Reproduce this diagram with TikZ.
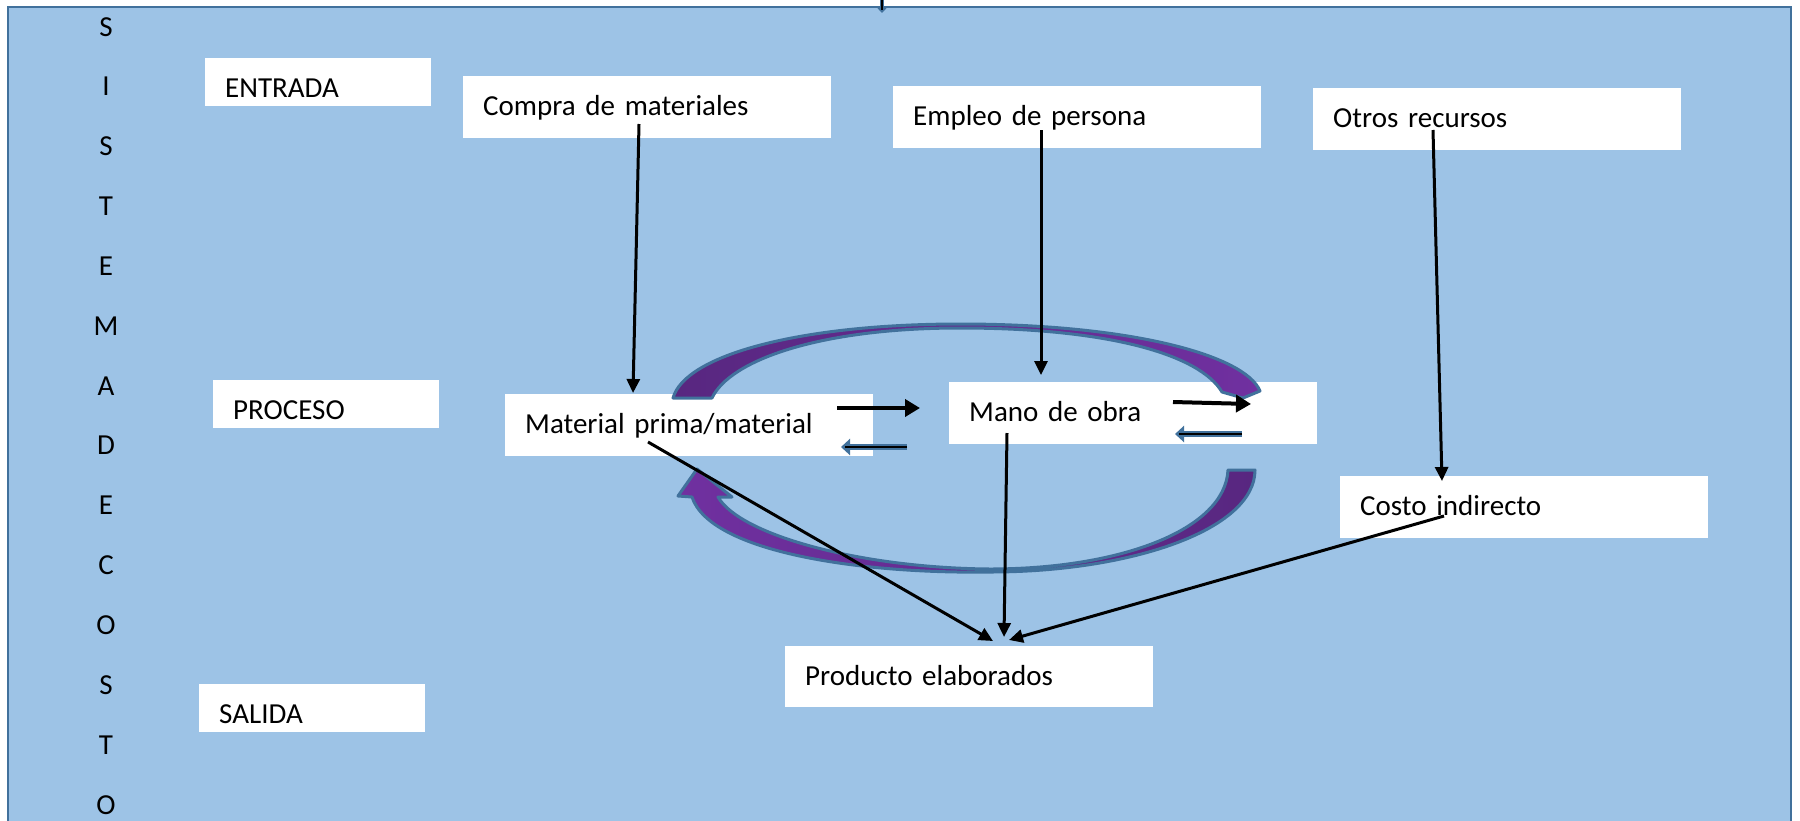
\documentclass[tikz,border=0pt]{standalone}
\usepackage{fontspec}
\setmainfont{Carlito}
\usetikzlibrary{arrows.meta}
\definecolor{bgblue}{HTML}{9DC3E6}
\definecolor{edgeblue}{HTML}{41719C}
\definecolor{purpA}{HTML}{7030A0}
\definecolor{purpB}{HTML}{582780}
\tikzset{
  txt/.style={font=\fontsize{29}{34}\selectfont},
  letter/.style={txt, anchor=base, inner sep=0pt},
  box/.style={txt, fill=white, anchor=north west, inner xsep=20pt, inner ysep=0pt,
              text height=39pt, align=left},
  conn/.style={black, line width=3pt, -{Triangle[length=14pt,width=13pt]}},
  sarrow/.style={black, line width=4pt, -{Triangle[length=15pt,width=17pt]}},
  barrowout/.style={edgeblue, line width=6pt, -{Triangle[length=9pt,width=16pt]}},
  barrowin/.style={black, line width=2pt, shorten >=4pt},
  arcband/.style={draw=edgeblue, line width=3pt, line join=round}
}
\begin{document}
\begin{tikzpicture}[x=1pt,y=-1pt]
\useasboundingbox (0,0) rectangle (1800,820);
\clip (0,0) rectangle (1800,820);
\fill[white] (0,0) rectangle (1800,820);
\draw[edgeblue, line width=2pt, fill=bgblue] (8,7) rectangle (1791,850);

% vertical title
\foreach \ch [count=\i from 0] in {S,I,S,T,E,M,A,D,E,C,O,S,T,O}
  \node[letter] (L\i) at (106,{36+59.85*\i}) {\ch};

% boxes
\node[box, text width=186pt, text depth=9pt]  (entrada)  at (205,58)  {ENTRADA};
\node[box, text width=186pt, text depth=9pt]  (proceso)  at (213,380) {PROCESO};
\node[box, text width=186pt, text depth=9pt]  (salida)   at (199,684) {SALIDA};
\node[box, text width=328pt, text depth=23pt] (compra)   at (463,76)  {Compra de materiales};
\node[box, text width=328pt, text depth=23pt] (empleo)   at (893,86)  {Empleo de persona};
\node[box, text width=328pt, text depth=23pt] (otros)    at (1313,88) {Otros recursos};
\node[box, text width=328pt, text depth=23pt] (material) at (505,394) {Material prima/material};
\node[box, text width=328pt, text depth=23pt] (mano)     at (949,382) {Mano de obra};
\node[box, text width=328pt, text depth=23pt] (costo)    at (1340,476) {Costo indirecto};
\node[box, text width=328pt, text depth=22pt] (producto) at (785,646) {Producto elaborados};

% top curved band
\path[arcband, left color=purpB, right color=purpA]
  (673,398) .. controls (685,355) and (800,324) .. (960,324)
  .. controls (1130,324) and (1245,355) .. (1260,391)
  -- (1243,398) -- (1222,392)
  .. controls (1200,355) and (1110,328) .. (960,328)
  .. controls (820,328) and (730,360) .. (712,398) -- cycle;

% bottom curved arrow
\path[arcband, left color=purpA, right color=purpB]
  (1255,470) .. controls (1255,530) and (1130,572) .. (990,572)
  .. controls (860,574) and (710,552) .. (692,497)
  -- (678,496) -- (697,469) -- (732,497) -- (718,497)
  .. controls (740,535) and (860,568) .. (990,569)
  .. controls (1120,569) and (1225,530) .. (1228,470) -- cycle;

% connector end points
\coordinate (c1s) at (639,124);  \coordinate (c1e) at (633,393);
\coordinate (c2s) at (1041,130); \coordinate (c2e) at (1041,375);
\coordinate (c3s) at (1433,130); \coordinate (c3e) at (1442,481);
\coordinate (c4s) at (648,442);  \coordinate (c4e) at (993,641);
\coordinate (c5s) at (1007,433); \coordinate (c5e) at (1004,637);
\coordinate (c6s) at (1444,516); \coordinate (c6e) at (1009,640);
\coordinate (s1s) at (837,408);  \coordinate (s1e) at (920,408);
\coordinate (s2s) at (1173,402); \coordinate (s2e) at (1251,404);
\coordinate (b1s) at (907,447);  \coordinate (b1e) at (841,447);
\coordinate (b2s) at (1242,434); \coordinate (b2e) at (1175,434);
\coordinate (t1s) at (882,-2);   \coordinate (t1e) at (882,13);

\draw[conn] (c1s) -- (c1e);
\draw[conn] (c2s) -- (c2e);
\draw[conn] (c3s) -- (c3e);
\draw[conn] (c4s) -- (c4e);
\draw[conn] (c5s) -- (c5e);
\draw[conn] (c6s) -- (c6e);

\draw[sarrow] (s1s) -- (s1e);
\draw[sarrow] (s2s) -- (s2e);

\draw[barrowout] (b1s) -- (b1e);
\draw[barrowin]  (b1s) -- (b1e);
\draw[barrowout] (b2s) -- (b2e);
\draw[barrowin]  (b2s) -- (b2e);

\draw[edgeblue, line width=4pt, -{Triangle[length=5pt,width=9pt]}] (t1s) -- (t1e);
\draw[black, line width=1.5pt, shorten >=3pt] (t1s) -- (t1e);
\end{tikzpicture}
\end{document}
